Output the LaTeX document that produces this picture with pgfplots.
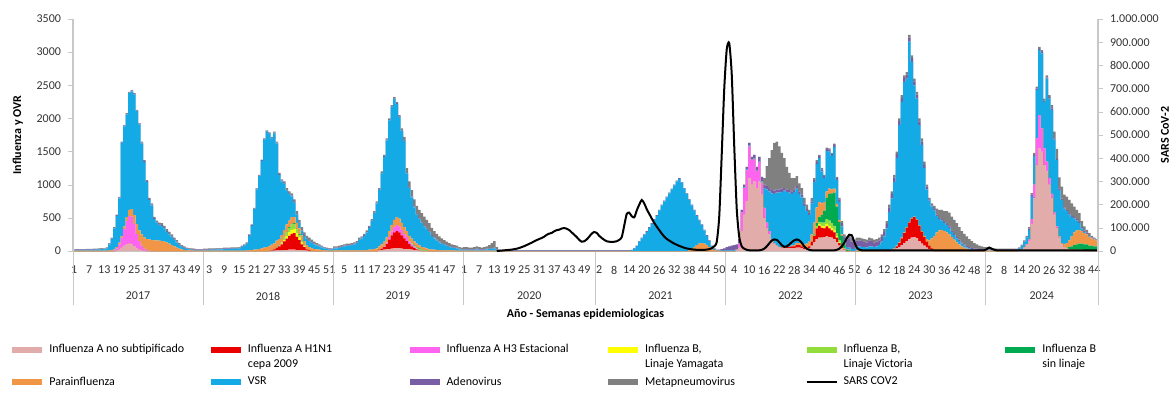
\documentclass[border=0pt]{standalone}
\usepackage{fontspec}
\setmainfont{Carlito}
\usepackage{pgfplots}
\usepackage{pgfplotstable}
\pgfplotsset{compat=1.18}
\definecolor{cANS}{RGB}{226,172,170}
\definecolor{cH1}{RGB}{235,0,0}
\definecolor{cH3}{RGB}{255,100,240}
\definecolor{cYam}{RGB}{255,255,0}
\definecolor{cVic}{RGB}{146,220,60}
\definecolor{cBsl}{RGB}{0,170,80}
\definecolor{cPar}{RGB}{240,150,70}
\definecolor{cVSR}{RGB}{20,170,230}
\definecolor{cAde}{RGB}{120,95,165}
\definecolor{cMet}{RGB}{128,128,128}
\definecolor{cAxis}{RGB}{200,200,200}

\pgfplotstableread{
i ans h1 h3 bya bvi bsl par vsr ade met
1 0 0 0 0 0 0 5 10 8 5
2 0 0 0 0 0 0 5 12 8 5
3 0 0 0 0 0 0 5 10 8 6
4 0 0 0 0 0 0 5 12 8 5
5 0 0 0 0 0 0 5 10 8 6
6 0 0 0 0 0 0 5 12 8 6
7 0 0 0 0 0 0 5 14 8 6
8 0 0 0 0 0 0 5 12 8 6
9 0 0 0 0 0 0 5 14 8 7
10 0 0 0 0 0 0 5 15 8 7
11 0 0 0 0 0 0 5 18 8 7
12 0 0 0 0 0 0 5 22 8 7
13 0 0 0 0 0 0 5 20 8 7
14 0 0 0 0 0 0 5 35 8 7
15 0 0 0 0 0 0 10 90 10 10
16 0 0 0 0 0 0 10 170 10 10
17 0 0 10 0 0 0 15 315 10 10
18 10 0 30 0 0 0 20 470 10 10
19 20 0 80 0 0 0 25 670 10 10
20 50 0 150 0 0 0 30 1400 10 10
21 80 0 250 0 0 0 40 1510 10 10
22 100 0 350 0 0 0 60 1550 10 10
23 110 0 420 0 0 0 90 1760 10 10
24 100 0 420 0 0 0 110 1780 10 10
25 70 0 340 0 0 0 130 1820 10 10
26 40 0 220 0 0 0 150 1700 10 10
27 20 0 130 0 0 0 160 1600 10 10
28 10 0 70 0 0 0 170 1370 15 15
29 5 0 30 0 0 0 170 1135 15 15
30 0 0 10 0 0 0 170 860 15 15
31 0 0 5 0 0 0 170 595 15 15
32 0 0 0 0 0 0 165 520 15 20
33 0 0 0 0 0 0 160 320 15 20
34 0 0 0 0 0 0 160 270 10 20
35 0 0 0 0 0 0 155 235 10 30
36 0 0 0 0 0 0 150 230 10 30
37 0 0 0 0 0 0 140 200 10 30
38 0 0 0 0 0 0 130 160 10 30
39 0 0 0 0 0 0 110 140 10 30
40 0 0 0 0 0 0 90 120 10 30
41 0 0 0 0 0 0 70 95 10 25
42 0 0 0 0 0 0 50 80 10 25
43 0 0 0 0 0 0 35 55 10 20
44 0 0 0 0 0 0 25 40 10 15
45 0 0 0 0 0 0 15 30 10 15
46 0 0 0 0 0 0 10 20 10 10
47 0 0 0 0 0 0 10 15 10 10
48 0 0 0 0 0 0 8 12 10 10
49 0 0 0 0 0 0 5 10 10 10
50 0 0 0 0 0 0 5 8 10 7
51 0 0 0 0 0 0 5 8 10 7
52 0 0 0 0 0 0 5 8 10 7
53 0 0 0 0 0 0 5 10 10 10
54 0 0 0 0 0 0 5 10 10 10
55 0 0 0 0 0 0 5 15 10 10
56 0 0 0 0 0 0 5 15 10 10
57 0 0 0 0 0 0 5 15 10 10
58 0 0 0 0 0 0 5 20 10 10
59 0 0 0 0 0 0 5 20 10 10
60 0 0 0 0 0 0 5 20 10 10
61 0 0 0 0 0 0 5 25 10 10
62 0 0 0 0 0 0 5 25 10 10
63 0 0 0 0 0 0 5 25 10 10
64 0 0 0 0 0 0 5 30 10 10
65 0 0 0 0 0 0 5 30 10 10
66 0 0 0 0 0 0 5 30 10 10
67 0 0 0 0 0 0 5 35 10 10
68 0 0 0 0 0 0 5 55 10 10
69 0 0 0 0 0 0 5 75 10 10
70 0 0 0 0 0 0 10 100 10 10
71 0 0 0 0 0 0 10 220 10 10
72 0 0 0 0 0 0 15 365 10 10
73 0 0 0 0 0 0 20 610 10 10
74 0 0 0 0 0 0 20 910 10 10
75 0 0 0 0 0 0 30 1100 10 10
76 0 0 0 0 0 0 40 1320 10 10
77 0 0 0 0 0 0 50 1630 10 10
78 0 0 0 0 0 0 60 1740 10 10
79 0 0 0 0 0 0 70 1700 10 10
80 5 10 0 0 0 0 80 1600 10 15
81 5 20 0 0 0 0 90 1660 10 15
82 10 40 0 0 5 0 100 1470 10 15
83 10 60 0 0 10 0 100 970 10 20
84 10 90 0 10 20 0 110 810 10 20
85 15 130 0 20 40 0 110 700 10 25
86 15 170 0 40 60 5 110 510 10 30
87 20 210 0 50 70 10 100 400 10 30
88 20 240 0 60 80 10 100 315 10 35
89 20 250 0 60 80 10 95 215 10 40
90 15 200 0 50 60 10 90 125 10 40
91 15 150 0 40 40 10 85 80 10 40
92 10 90 0 25 25 5 80 75 10 40
93 10 50 0 10 10 0 70 80 10 40
94 5 20 0 0 5 0 60 90 10 40
95 0 10 0 0 0 0 50 90 10 40
96 0 0 0 0 0 0 40 85 10 35
97 0 0 0 0 0 0 30 70 10 30
98 0 0 0 0 0 0 25 60 10 25
99 0 0 0 0 0 0 20 50 10 20
100 0 0 0 0 0 0 15 40 10 15
101 0 0 0 0 0 0 10 30 10 10
102 0 0 0 0 0 0 10 20 10 10
103 0 0 0 0 0 0 5 20 10 10
104 0 0 0 0 0 0 5 15 10 10
105 0 0 0 0 0 0 10 30 10 20
106 0 0 0 0 0 0 10 30 10 20
107 0 0 0 0 0 0 10 40 10 20
108 0 0 0 0 0 0 10 50 10 20
109 0 0 0 0 0 0 10 60 10 20
110 0 0 0 0 0 0 10 70 10 20
111 0 0 0 0 0 0 10 70 10 20
112 0 0 0 0 0 0 10 80 10 20
113 0 0 0 0 0 0 10 90 10 20
114 0 0 0 0 0 0 10 110 10 20
115 0 0 0 0 0 0 10 160 10 20
116 0 0 0 0 0 0 10 180 10 20
117 0 0 0 0 0 0 10 220 10 20
118 0 0 0 0 0 0 15 265 10 20
119 0 0 0 0 0 0 20 330 10 20
120 0 0 0 0 0 0 20 430 10 20
121 0 0 0 0 0 0 30 540 10 20
122 0 0 0 0 0 0 40 680 10 20
123 10 10 0 0 0 0 50 850 10 20
124 15 20 5 0 0 0 60 1070 10 20
125 20 40 10 0 0 0 70 1280 10 20
126 25 80 20 0 0 0 80 1465 10 20
127 30 140 40 0 0 0 90 1670 10 20
128 35 200 60 0 0 0 100 1775 10 20
129 40 240 80 0 0 0 110 1820 10 20
130 40 260 90 0 0 0 120 1710 10 20
131 40 240 90 0 0 0 120 1530 10 20
132 35 200 80 0 0 0 110 1385 10 30
133 30 160 70 0 0 0 100 1300 10 50
134 30 120 60 0 0 0 90 870 10 70
135 25 80 40 0 5 0 80 720 10 90
136 20 50 30 0 10 5 70 625 10 100
137 15 30 20 0 10 10 60 515 10 110
138 10 15 10 0 15 10 50 440 10 120
139 5 5 5 0 15 10 45 395 10 130
140 0 0 0 0 10 10 40 360 10 140
141 0 0 0 0 10 5 35 320 10 140
142 0 0 0 0 5 5 30 290 10 130
143 0 0 0 0 0 0 25 260 10 125
144 0 0 0 0 0 0 20 210 10 110
145 0 0 0 0 0 0 20 170 10 100
146 0 0 0 0 0 0 15 145 10 90
147 0 0 0 0 0 0 15 115 10 80
148 0 0 0 0 0 0 10 100 10 70
149 0 0 0 0 0 0 10 85 10 60
150 0 0 0 0 0 0 10 70 10 50
151 0 0 0 0 0 0 10 55 10 45
152 0 0 0 0 0 0 10 40 10 40
153 0 0 0 0 0 0 10 35 10 35
154 0 0 0 0 0 0 5 35 10 30
155 0 0 0 0 0 0 5 20 10 25
156 0 0 0 0 0 0 5 15 10 20
157 0 0 0 0 0 0 5 15 10 30
158 0 0 0 0 0 0 5 15 10 30
159 0 0 0 0 0 0 5 10 10 25
160 0 0 0 0 0 0 5 10 10 25
161 0 0 0 0 0 0 5 15 10 30
162 0 0 0 0 0 0 5 20 10 35
163 0 0 0 0 0 0 5 15 10 30
164 0 0 0 0 0 0 5 10 10 25
165 0 0 0 0 0 0 5 15 10 30
166 0 0 0 0 0 0 5 20 10 35
167 0 0 0 0 0 0 5 25 10 50
168 0 0 0 0 0 0 5 30 10 75
169 0 0 0 0 0 0 5 35 10 100
170 0 0 0 0 0 0 5 15 10 30
171 0 0 0 0 0 0 0 5 10 5
172 0 0 0 0 0 0 0 2 8 0
173 0 0 0 0 0 0 0 2 8 0
174 0 0 0 0 0 0 0 2 8 0
175 0 0 0 0 0 0 0 2 8 0
176 0 0 0 0 0 0 0 2 8 0
177 0 0 0 0 0 0 0 2 8 0
178 0 0 0 0 0 0 0 2 8 0
179 0 0 0 0 0 0 0 2 8 0
180 0 0 0 0 0 0 0 2 8 0
181 0 0 0 0 0 0 0 2 8 0
182 0 0 0 0 0 0 0 2 8 0
183 0 0 0 0 0 0 0 2 8 0
184 0 0 0 0 0 0 0 2 8 0
185 0 0 0 0 0 0 0 2 8 0
186 0 0 0 0 0 0 0 2 8 0
187 0 0 0 0 0 0 0 2 8 0
188 0 0 0 0 0 0 0 2 8 0
189 0 0 0 0 0 0 0 2 8 0
190 0 0 0 0 0 0 0 2 8 0
191 0 0 0 0 0 0 0 2 8 0
192 0 0 0 0 0 0 0 2 8 0
193 0 0 0 0 0 0 0 2 8 0
194 0 0 0 0 0 0 0 2 8 0
195 0 0 0 0 0 0 0 2 8 0
196 0 0 0 0 0 0 0 2 8 0
197 0 0 0 0 0 0 0 2 8 0
198 0 0 0 0 0 0 0 2 8 0
199 0 0 0 0 0 0 0 2 8 0
200 0 0 0 0 0 0 0 2 8 0
201 0 0 0 0 0 0 0 2 8 0
202 0 0 0 0 0 0 0 2 8 0
203 0 0 0 0 0 0 0 2 8 0
204 0 0 0 0 0 0 0 2 8 0
205 0 0 0 0 0 0 0 2 8 0
206 0 0 0 0 0 0 0 2 8 0
207 0 0 0 0 0 0 0 2 8 0
208 0 0 0 0 0 0 0 2 8 0
209 0 0 0 0 0 0 0 2 8 0
210 0 0 0 0 0 0 0 2 8 0
211 0 0 0 0 0 0 0 2 8 0
212 0 0 0 0 0 0 0 2 8 0
213 0 0 0 0 0 0 0 2 8 0
214 0 0 0 0 0 0 0 2 8 0
215 0 0 0 0 0 0 0 2 8 0
216 0 0 0 0 0 0 0 2 8 0
217 0 0 0 0 0 0 0 2 8 0
218 0 0 0 0 0 0 0 2 8 0
219 0 0 0 0 0 0 0 2 8 0
220 0 0 0 0 0 0 0 2 8 0
221 0 0 0 0 0 0 0 2 8 0
222 0 0 0 0 0 0 0 2 8 0
223 0 0 0 0 0 0 0 2 8 0
224 0 0 0 0 0 0 0 10 8 0
225 0 0 0 0 0 0 0 35 8 0
226 0 0 0 0 0 0 0 75 8 0
227 0 0 0 0 0 0 0 140 10 0
228 0 0 0 0 0 0 0 190 10 0
229 0 0 0 0 0 0 0 240 10 0
230 0 0 0 0 0 0 0 290 10 0
231 0 0 0 0 0 0 0 350 10 0
232 0 0 0 0 0 0 0 410 10 0
233 0 0 0 0 0 0 0 470 10 0
234 0 0 0 0 0 0 0 530 10 0
235 0 0 0 0 0 0 0 610 10 0
236 0 0 0 0 0 0 0 690 10 0
237 0 0 0 0 0 0 0 750 10 0
238 0 0 0 0 0 0 0 810 10 0
239 0 0 0 0 0 0 0 870 10 0
240 0 0 0 0 0 0 0 930 10 0
241 0 0 0 0 0 0 0 990 10 0
242 0 0 0 0 0 0 0 1050 10 0
243 0 0 0 0 0 0 0 1090 10 0
244 0 0 0 0 0 0 0 1030 10 0
245 0 0 0 0 0 0 0 940 10 0
246 0 0 0 0 0 0 0 860 10 0
247 0 0 0 0 0 0 10 760 10 0
248 0 0 0 0 0 0 30 660 10 0
249 0 0 0 0 0 0 60 550 10 0
250 0 0 0 0 0 0 90 440 10 0
251 0 0 0 0 0 0 110 350 10 0
252 0 0 0 0 0 0 120 270 10 0
253 0 0 0 0 0 0 110 200 10 0
254 0 0 0 0 0 0 90 140 10 0
255 0 0 0 0 0 0 60 90 10 0
256 0 0 0 0 0 0 30 40 10 0
257 0 0 0 0 0 0 15 15 10 0
258 0 0 0 0 0 0 5 5 10 0
259 0 0 0 0 0 0 5 5 10 0
260 0 0 0 0 0 0 0 5 25 0
261 0 0 0 0 0 0 0 5 35 0
262 0 0 0 0 0 0 0 10 50 0
263 0 0 0 0 0 0 0 10 60 0
264 0 0 0 0 0 0 0 10 70 0
265 0 0 0 0 0 0 0 10 80 0
266 10 0 10 0 0 0 0 10 70 0
267 50 0 60 0 0 0 0 10 60 0
268 300 0 280 0 0 0 0 10 30 0
269 550 0 400 0 0 0 0 10 40 0
270 750 0 470 0 0 0 0 10 40 0
271 1100 0 480 0 0 0 0 10 40 0
272 1000 0 370 0 0 0 0 10 40 0
273 1050 0 340 0 0 0 0 10 50 0
274 950 0 260 0 0 0 0 10 50 0
275 1050 0 290 0 0 0 0 10 70 0
276 850 0 180 0 0 0 0 20 70 0
277 500 0 150 0 0 0 0 300 50 100
278 350 0 80 0 0 0 0 500 50 300
279 250 0 50 0 0 0 0 600 50 450
280 150 0 20 0 0 0 0 700 50 600
281 100 0 10 0 0 0 0 750 50 720
282 80 0 0 0 0 0 0 800 50 720
283 60 0 0 0 0 0 0 820 50 650
284 50 10 0 0 0 0 0 830 50 540
285 50 20 0 0 0 0 0 840 40 450
286 40 20 0 0 0 0 0 830 40 340
287 40 20 0 0 0 0 0 820 40 260
288 40 30 0 0 0 0 10 780 40 200
289 40 30 0 0 0 0 20 800 40 170
290 50 40 0 0 0 0 30 820 40 150
291 50 40 0 0 0 0 30 740 40 120
292 40 30 0 0 0 0 40 700 40 100
293 30 20 0 0 0 0 50 580 40 80
294 30 20 0 0 0 0 60 490 30 70
295 40 30 0 0 0 0 70 400 30 50
296 80 60 0 0 0 0 110 470 30 50
297 130 100 0 0 10 10 180 610 30 30
298 180 160 0 10 30 40 240 650 30 30
299 200 180 0 20 40 70 230 660 30 20
300 200 150 0 30 50 110 180 480 30 20
301 210 130 0 30 60 180 130 360 30 20
302 220 150 0 40 70 320 100 610 30 20
303 210 130 0 40 80 400 80 560 30 20
304 200 110 0 30 80 450 60 500 30 20
305 180 100 0 30 70 500 60 630 30 20
306 130 70 0 20 50 400 40 360 30 20
307 80 40 0 10 30 280 30 270 40 20
308 40 20 0 0 20 150 20 120 50 30
309 20 10 0 0 10 60 10 40 70 30
310 0 0 0 0 0 20 10 30 110 50
311 0 0 0 0 0 10 10 30 140 70
312 0 0 0 0 0 0 0 30 110 60
313 0 0 0 0 0 0 0 30 90 50
314 0 0 0 0 0 0 10 60 90 40
315 0 0 0 0 0 0 10 60 90 40
316 0 0 0 0 0 0 10 50 90 40
317 0 0 0 0 0 0 10 50 80 40
318 0 0 0 0 0 0 10 40 80 40
319 0 0 0 0 0 0 10 60 90 40
320 0 0 0 0 0 0 10 60 80 40
321 0 0 0 0 0 0 10 50 70 40
322 0 0 0 0 0 0 10 60 70 40
323 0 0 0 0 0 0 10 80 70 40
324 0 0 0 0 0 0 10 130 70 40
325 0 0 0 0 0 0 10 210 70 40
326 0 0 0 0 0 0 10 330 70 40
327 0 0 0 0 0 0 10 580 70 40
328 10 0 0 0 0 0 10 770 70 40
329 20 10 0 0 0 0 10 1000 70 40
330 40 30 0 0 0 0 10 1320 60 40
331 60 60 0 0 0 0 10 1770 60 40
332 90 100 0 0 0 0 10 2050 60 40
333 120 150 0 0 0 0 10 2270 60 40
334 150 200 0 0 0 0 10 2240 60 40
335 180 250 0 0 0 0 10 2720 60 40
336 200 290 0 0 0 0 10 2350 60 40
337 210 300 0 0 0 0 10 1980 60 40
338 190 280 0 0 0 0 10 1820 60 40
339 150 230 0 0 0 0 10 1510 50 50
340 110 180 0 0 0 0 10 1300 50 50
341 80 130 0 0 0 0 20 1020 50 50
342 50 90 0 0 0 0 40 750 40 30
343 30 50 0 0 0 0 80 600 20 20
344 15 25 0 0 0 0 150 480 20 30
345 0 10 0 0 0 0 220 380 20 50
346 0 0 0 0 0 0 280 250 20 90
347 0 0 0 0 0 0 310 170 20 120
348 0 0 0 0 0 0 320 140 20 140
349 0 0 0 0 0 0 300 120 20 160
350 0 0 0 0 0 0 280 110 20 190
351 0 0 0 0 0 0 250 100 20 210
352 0 0 0 0 0 0 210 80 20 210
353 0 0 0 0 0 0 170 70 20 210
354 0 0 0 0 0 0 130 60 20 210
355 0 0 0 0 0 0 100 50 20 190
356 0 0 0 0 0 0 70 40 20 170
357 0 0 0 0 0 0 50 30 20 160
358 0 0 0 0 0 0 35 20 20 145
359 0 0 0 0 0 0 25 15 20 120
360 0 0 0 0 0 0 15 10 20 105
361 0 0 0 0 0 0 10 10 20 80
362 0 0 0 0 0 0 10 5 20 65
363 0 0 0 0 0 0 5 5 20 50
364 0 0 0 0 0 0 5 5 20 40
365 0 0 0 0 0 0 5 5 20 30
366 0 0 0 0 0 0 10 10 20 20
367 0 0 0 0 0 0 10 10 15 15
368 0 0 0 0 0 0 5 10 15 15
369 0 0 0 0 0 0 5 10 10 15
370 0 0 0 0 0 0 5 10 10 10
371 0 0 0 0 0 0 5 10 10 10
372 0 0 0 0 0 0 5 10 10 10
373 0 0 0 0 0 0 5 10 10 10
374 0 0 0 0 0 0 5 10 10 10
375 0 0 0 0 0 0 5 10 10 10
376 0 0 0 0 0 0 5 10 10 10
377 0 0 0 0 0 0 5 10 10 10
378 0 0 0 0 0 0 5 10 10 10
379 10 0 0 0 0 0 5 20 10 10
380 20 0 0 0 0 0 5 50 10 10
381 50 0 5 0 0 0 5 80 10 10
382 90 0 10 0 0 0 5 100 10 15
383 150 0 20 0 0 0 0 150 20 20
384 400 0 80 0 0 0 0 350 20 25
385 800 0 200 0 0 0 0 430 20 30
386 1300 0 400 0 0 0 0 730 20 30
387 1550 0 500 0 0 0 0 980 20 30
388 1500 0 350 0 0 0 0 1130 20 30
389 1300 0 250 0 0 0 0 700 20 30
390 1200 0 150 0 0 0 0 1250 20 30
391 1000 0 100 0 0 0 0 1200 20 30
392 800 0 60 0 0 0 0 1270 20 50
393 550 0 30 0 0 0 0 1100 20 100
394 350 0 20 0 0 0 0 1000 20 150
395 200 0 10 0 0 0 10 700 20 170
396 100 0 0 0 0 0 20 650 20 180
397 60 0 0 0 0 0 40 540 20 190
398 40 0 0 0 0 10 70 480 20 200
399 30 0 0 0 0 30 100 390 20 200
400 20 0 0 0 0 50 150 290 20 190
401 20 0 0 0 10 60 190 210 20 160
402 10 0 0 0 10 80 210 150 20 140
403 10 0 0 0 10 90 210 100 20 130
404 10 0 0 0 10 90 190 40 20 90
405 0 0 0 0 10 90 170 20 20 60
406 0 0 0 0 10 90 150 10 20 40
407 0 0 0 0 0 80 130 10 10 40
408 0 0 0 0 0 80 110 5 10 25
409 0 0 0 0 0 70 100 5 10 15
410 0 0 0 0 0 70 90 5 5 10
}\virdata

\pgfplotstableread[row sep=\\]{
i v\\
170 0\\ 171 1000\\ 172 2000\\ 173 3000\\ 174 4000\\ 175 5000\\ 176 6000\\ 177 8000\\ 178 10000\\ 179 13000\\
180 17000\\ 181 21000\\ 182 26000\\ 183 31000\\ 184 36000\\ 185 42000\\ 186 47000\\ 187 52000\\ 188 56000\\ 189 62000\\
190 70000\\ 191 75000\\ 192 78000\\ 193 85000\\ 194 90000\\ 195 92000\\ 196 97000\\ 197 99000\\ 198 96000\\ 199 90000\\
200 80000\\ 201 70000\\ 202 60000\\ 203 48000\\ 204 40000\\ 205 42000\\ 206 50000\\ 207 62000\\ 208 75000\\ 209 82000\\
210 78000\\ 211 65000\\ 212 56000\\ 213 48000\\ 214 42000\\ 215 40000\\ 216 39000\\ 217 40000\\ 218 42000\\ 219 48000\\
220 60000\\ 221 110000\\ 222 160000\\ 223 165000\\ 224 150000\\ 225 145000\\ 226 175000\\ 227 200000\\ 228 220000\\ 229 205000\\
230 180000\\ 231 160000\\ 232 140000\\ 233 121000\\ 234 105000\\ 235 90000\\ 236 75000\\ 237 62000\\ 238 52000\\ 239 45000\\
240 38000\\ 241 32000\\ 242 27000\\ 243 22000\\ 244 18000\\ 245 14000\\ 246 11000\\ 247 9000\\ 248 7000\\ 249 6000\\
250 5000\\ 251 5000\\ 252 5000\\ 253 5000\\ 254 6000\\ 255 8000\\ 256 12000\\ 257 20000\\ 258 40000\\ 259 150000\\
260 420000\\ 261 700000\\ 262 870000\\ 263 895000\\ 264 760000\\ 265 450000\\ 266 180000\\ 267 60000\\ 268 20000\\ 269 10000\\
270 5000\\ 271 3000\\ 272 3000\\ 273 3000\\ 274 3000\\ 275 3000\\ 276 5000\\ 277 10000\\ 278 20000\\ 279 33000\\
280 45000\\ 281 50000\\ 282 48000\\ 283 38000\\ 284 25000\\ 285 18000\\ 286 20000\\ 287 28000\\ 288 38000\\ 289 46000\\
290 50000\\ 291 46000\\ 292 35000\\ 293 20000\\ 294 10000\\ 295 5000\\ 296 3000\\ 297 3000\\ 298 3000\\ 299 3000\\
300 3000\\ 301 3000\\ 302 3000\\ 303 3000\\ 304 3000\\ 305 3000\\ 306 5000\\ 307 10000\\ 308 20000\\ 309 35000\\
310 55000\\ 311 70000\\ 312 68000\\ 313 40000\\ 314 15000\\ 315 6000\\ 316 3000\\ 317 3000\\ 318 3000\\ 319 3000\\
320 3000\\ 321 3000\\ 322 3000\\ 323 3000\\ 324 3000\\ 325 3000\\ 326 3000\\ 327 3000\\ 328 3000\\ 329 3000\\
330 3000\\ 331 3000\\ 332 3000\\ 333 3000\\ 334 3000\\ 335 3000\\ 336 3000\\ 337 3000\\ 338 3000\\ 339 3000\\
340 3000\\ 341 3000\\ 342 3000\\ 343 3000\\ 344 3000\\ 345 3000\\ 346 3000\\ 347 3000\\ 348 3000\\ 349 3000\\
350 3000\\ 351 3000\\ 352 3000\\ 353 3000\\ 354 3000\\ 355 3000\\ 356 3000\\ 357 3000\\ 358 3000\\ 359 3000\\
360 3000\\ 361 3000\\ 362 3000\\ 363 3000\\ 364 3000\\ 365 3000\\ 366 8000\\ 367 15000\\ 368 10000\\ 369 5000\\
370 3000\\ 372 3000\\ 374 3000\\ 376 3000\\ 378 3000\\ 380 3000\\ 382 3000\\ 384 3000\\ 386 3000\\ 388 3000\\
390 3000\\ 392 3000\\ 394 3000\\ 396 3000\\ 398 3000\\ 400 3000\\ 402 3000\\ 404 3000\\ 406 3000\\ 408 3000\\ 410 3000\\
}\sarsdata

\begin{document}
\begin{tikzpicture}
\path[use as bounding box] (0,0) rectangle (588pt,196pt);
\begin{axis}[
  at={(36.5pt,70.5pt)}, anchor=south west,
  width=512.5pt, height=116pt, scale only axis,
  xmin=0.5, xmax=410.5, ymin=0, ymax=3500,
  axis x line*=bottom, axis y line*=left,
  axis line style={cAxis, line width=0.6pt},
  ytick={0,500,...,3500},
  yticklabel style={/pgf/number format/1000 sep={}},
  ytick style={cAxis},
  tick align=outside, major tick length=2.5pt,
  xtick={1,7,...,409},
  xticklabels={1,7,13,19,25,31,37,43,49,3,9,15,21,27,33,39,45,51,5,11,17,23,29,35,41,47,1,7,13,19,25,31,37,43,49,2,8,14,20,26,32,38,44,50,4,10,16,22,28,34,40,46,52,6,12,18,24,30,36,42,48,2,8,14,20,26,32,38,44},
  xtick style={draw=none},
  xticklabel style={yshift=-1.5pt},
  tick label style={font=\fontsize{6}{7}\selectfont, text=black!80},
  /pgf/number format/assume math mode=true,
  xlabel={\textbf{Año - Semanas epidemiologicas}},
  every axis x label/.style={at={(axis description cs:0.5,0)}, anchor=center, yshift=-31.5pt, font=\fontsize{6}{7}\selectfont},
  ylabel={\textbf{Influenza y OVR}},
  every axis y label/.style={at={(axis description cs:-0.0537,0.5)}, rotate=90, anchor=center, font=\fontsize{6}{7}\selectfont},
  stack plots=y, const plot mark mid,
  clip=false,
]
\addplot[fill=cANS, draw=none] table[x=i,y=ans]{\virdata} \closedcycle;
\addplot[fill=cH1, draw=none] table[x=i,y=h1]{\virdata} \closedcycle;
\addplot[fill=cH3, draw=none] table[x=i,y=h3]{\virdata} \closedcycle;
\addplot[fill=cYam, draw=none] table[x=i,y=bya]{\virdata} \closedcycle;
\addplot[fill=cVic, draw=none] table[x=i,y=bvi]{\virdata} \closedcycle;
\addplot[fill=cBsl, draw=none] table[x=i,y=bsl]{\virdata} \closedcycle;
\addplot[fill=cPar, draw=none] table[x=i,y=par]{\virdata} \closedcycle;
\addplot[fill=cVSR, draw=none] table[x=i,y=vsr]{\virdata} \closedcycle;
\addplot[fill=cAde, draw=none] table[x=i,y=ade]{\virdata} \closedcycle;
\addplot[fill=cMet, draw=none] table[x=i,y=met]{\virdata} \closedcycle;
\pgfplotsinvokeforeach{0.5,52.5,104.5,156.5,209.5,261.5,313.5,365.5,410.5}{
  \draw[cAxis, line width=0.5pt] (axis cs:#1,0) -- ++(0pt,-27pt);
}
\node[font=\fontsize{6}{7}\selectfont, text=black!80, yshift=-22.5pt] at (axis cs:26.5,0) {2017};
\node[font=\fontsize{6}{7}\selectfont, text=black!80, yshift=-22.5pt] at (axis cs:78.5,0) {2018};
\node[font=\fontsize{6}{7}\selectfont, text=black!80, yshift=-22.5pt] at (axis cs:130.5,0) {2019};
\node[font=\fontsize{6}{7}\selectfont, text=black!80, yshift=-22.5pt] at (axis cs:183,0) {2020};
\node[font=\fontsize{6}{7}\selectfont, text=black!80, yshift=-22.5pt] at (axis cs:235.5,0) {2021};
\node[font=\fontsize{6}{7}\selectfont, text=black!80, yshift=-22.5pt] at (axis cs:287.5,0) {2022};
\node[font=\fontsize{6}{7}\selectfont, text=black!80, yshift=-22.5pt] at (axis cs:339.5,0) {2023};
\node[font=\fontsize{6}{7}\selectfont, text=black!80, yshift=-22.5pt] at (axis cs:388,0) {2024};
\end{axis}

\begin{axis}[
  at={(36.5pt,70.5pt)}, anchor=south west,
  width=512.5pt, height=116pt, scale only axis,
  xmin=0.5, xmax=410.5, ymin=0, ymax=1000000,
  axis x line=none, axis y line*=right,
  axis line style={cAxis, line width=0.6pt},
  ytick={0,100000,...,1000000},
  scaled y ticks=false,
  yticklabel style={/pgf/number format/.cd, fixed, 1000 sep={.}},
  ytick style={cAxis},
  tick align=outside, major tick length=2.5pt,
  tick label style={font=\fontsize{6}{7}\selectfont, text=black!80},
  /pgf/number format/assume math mode=true,
  ylabel={\textbf{SARS CoV-2}},
  every axis y label/.style={at={(axis description cs:1.0654,0.5)}, rotate=90, anchor=center, font=\fontsize{6}{7}\selectfont},
  legend columns=6,
  legend cell align=left,
  legend style={at={(axis description cs:-0.0625,-0.3836)}, anchor=north west, draw=none, fill=none,
    font=\fontsize{6}{7.5}\selectfont, inner sep=0pt, row sep=6.5pt,
    /tikz/every odd column/.append style={column sep=0pt}},
  legend image code/.code={\draw[#1] (0pt,0pt) -- (15pt,0pt);},
]
\addlegendimage{line width=3pt, color=cANS}
\addlegendentry{\parbox[t]{77.3pt}{Influenza A no subtipificado}}
\addlegendimage{line width=3pt, color=cH1}
\addlegendentry{\parbox[t]{77.3pt}{Influenza A H1N1\\cepa 2009}}
\addlegendimage{line width=3pt, color=cH3}
\addlegendentry{\parbox[t]{77.3pt}{Influenza A H3 Estacional}}
\addlegendimage{line width=3pt, color=cYam}
\addlegendentry{\parbox[t]{77.3pt}{Influenza B,\\Linaje Yamagata}}
\addlegendimage{line width=3pt, color=cVic}
\addlegendentry{\parbox[t]{77.3pt}{Influenza B,\\Linaje Victoria}}
\addlegendimage{line width=3pt, color=cBsl}
\addlegendentry{\parbox[t]{77.3pt}{Influenza B\\sin linaje}}
\addlegendimage{line width=3pt, color=cPar}
\addlegendentry{\parbox[t]{77.3pt}{Parainfluenza}}
\addlegendimage{line width=3pt, color=cVSR}
\addlegendentry{\parbox[t]{77.3pt}{VSR}}
\addlegendimage{line width=3pt, color=cAde}
\addlegendentry{\parbox[t]{77.3pt}{Adenovirus}}
\addlegendimage{line width=3pt, color=cMet}
\addlegendentry{\parbox[t]{77.3pt}{Metapneumovirus}}
\addplot[black, line width=1pt, smooth, tension=0.4] table[x=i,y=v]{\sarsdata};
\addlegendentry{\parbox[t]{77.3pt}{SARS COV2}}
\end{axis}
\end{tikzpicture}
\end{document}
